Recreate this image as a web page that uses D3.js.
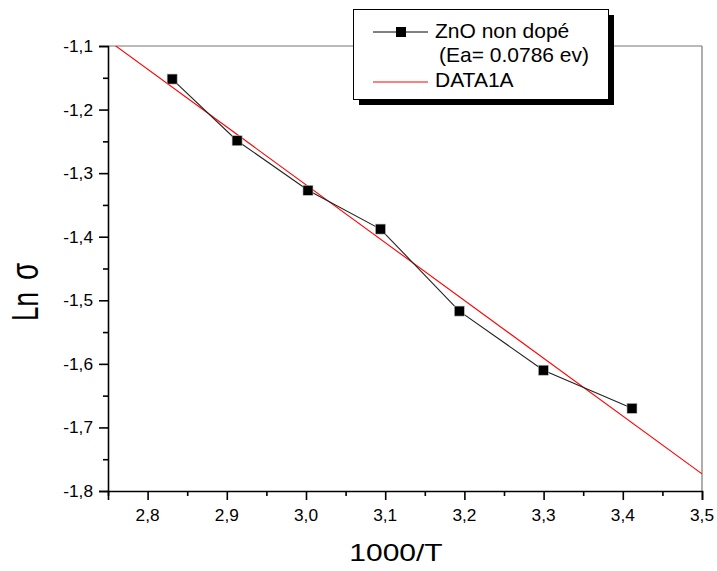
<!DOCTYPE html>
<html><head><meta charset="utf-8">
<script src="https://cdn.jsdelivr.net/npm/d3@7"></script>
<style>body{margin:0;background:#fff}svg{display:block}text{font-family:"Liberation Sans",Arial,sans-serif;fill:#000}</style>
</head><body>
<script>
const xValues = [2.831, 2.913, 3.0025, 3.094, 3.1936, 3.2997, 3.4116];
const yValues = [-1.152, -1.249, -1.327, -1.388, -1.517, -1.610, -1.670];
const fitX = [2.75, 3.5];
const fitY = [-1.091, -1.773];
const xTicks = [2.8, 2.9, 3.0, 3.1, 3.2, 3.3, 3.4, 3.5];
const yTicks = [-1.1, -1.2, -1.3, -1.4, -1.5, -1.6, -1.7, -1.8];
const legendLabels = ["ZnO non dopé", "(Ea= 0.0786 ev)", "DATA1A"];

const W = 717, H = 571;
const L = 108, R = 702, T = 46, B = 491;
const svg = d3.select("body").append("svg").attr("width", W).attr("height", H);
const x = d3.scaleLinear().domain([2.75, 3.5]).range([L, R]);
const y = d3.scaleLinear().domain([-1.8, -1.1]).range([B, T]);
const fmt = d => d.toFixed(1).replace(".", ",");

function stext(g, str, tx, ty, size, anchor, sx) {
  return g.append("text").attr("transform", `translate(${tx},${ty}) scale(${sx},1)`)
    .attr("text-anchor", anchor).attr("font-size", size).text(str);
}

svg.append("defs").append("clipPath").attr("id", "clip")
  .append("rect").attr("x", L).attr("y", T).attr("width", R - L).attr("height", B - T);

// frame top/right
svg.append("line").attr("x1", L).attr("x2", R).attr("y1", T).attr("y2", T).attr("stroke", "#777").attr("stroke-width", 1.2);
svg.append("line").attr("x1", R).attr("x2", R).attr("y1", T).attr("y2", B).attr("stroke", "#777").attr("stroke-width", 1.2);

// axes
const xAxis = d3.axisBottom(x).tickValues(xTicks).tickSize(9).tickFormat("");
svg.append("g").attr("transform", `translate(0,${B})`).call(xAxis);
const xMinor = d3.axisBottom(x).tickValues(xTicks.map(v => v - 0.05)).tickSize(5).tickFormat("");
svg.append("g").attr("transform", `translate(0,${B})`).call(xMinor).select(".domain").remove();
const yAxis = d3.axisLeft(y).tickValues(yTicks).tickSize(9).tickFormat("");
svg.append("g").attr("transform", `translate(${L},0)`).call(yAxis);
const yMinor = d3.axisLeft(y).tickValues(yTicks.slice(0, -1).map(v => v - 0.05)).tickSize(5).tickFormat("");
svg.append("g").attr("transform", `translate(${L},0)`).call(yMinor).select(".domain").remove();
svg.selectAll(".domain").attr("stroke", "#000").attr("stroke-width", 1.6);
svg.selectAll(".tick line").attr("stroke", "#000").attr("stroke-width", 1.6);

xTicks.forEach(v => stext(svg, fmt(v), x(v), B + 29.5, 16, "middle", 1.08));
yTicks.forEach(v => stext(svg, fmt(v), L - 15, y(v) + 6, 16, "end", 1.08));

// axis titles
stext(svg, "1000/T", 396, 561, 24, "middle", 1.25);
const yt = svg.append("text").attr("transform", `translate(38,321) rotate(-90) scale(1,1.4)`)
  .attr("text-anchor", "start").attr("font-size", 26);
yt.append("tspan").text("Ln");
yt.append("tspan").attr("dx", 12).attr("font-size", 28).text("σ");

// fit line
const plot = svg.append("g").attr("clip-path", "url(#clip)");
const fitData = fitX.map((v, i) => [v, fitY[i]]);
plot.append("path").datum(fitData).attr("fill", "none").attr("stroke", "#f00").attr("stroke-width", 1.1)
  .attr("d", d3.line().x(d => x(d[0])).y(d => y(d[1])));

const data = xValues.map((v, i) => [v, yValues[i]]);
plot.append("path").datum(data).attr("fill", "none").attr("stroke", "#222").attr("stroke-width", 1.1)
  .attr("d", d3.line().x(d => x(d[0])).y(d => y(d[1])));
plot.selectAll("rect.m").data(data).enter().append("rect").attr("class", "m")
  .attr("x", d => x(d[0]) - 5).attr("y", d => y(d[1]) - 5).attr("width", 10).attr("height", 10)
  .attr("fill", "#000").attr("stroke", "#bbb").attr("stroke-width", 0.6);

// legend
const lg = svg.append("g");
lg.append("rect").attr("x", 359).attr("y", 15).attr("width", 255).attr("height", 90).attr("fill", "#000");
lg.append("rect").attr("x", 353.5).attr("y", 9.5).attr("width", 255).attr("height", 90).attr("fill", "#fff").attr("stroke", "#000").attr("stroke-width", 1);
lg.append("line").attr("x1", 373).attr("x2", 428).attr("y1", 32).attr("y2", 32).attr("stroke", "#000").attr("stroke-width", 1);
lg.append("rect").attr("x", 401 - 5).attr("y", 32 - 5).attr("width", 10).attr("height", 10).attr("fill", "#000");
lg.append("line").attr("x1", 373).attr("x2", 428).attr("y1", 82).attr("y2", 82).attr("stroke", "#f00").attr("stroke-width", 1);
stext(lg, legendLabels[0], 435, 37.5, 21, "start", 1);
stext(lg, legendLabels[1], 439, 62, 21, "start", 1);
stext(lg, legendLabels[2], 435, 87, 21, "start", 1);
</script>
</body></html>
